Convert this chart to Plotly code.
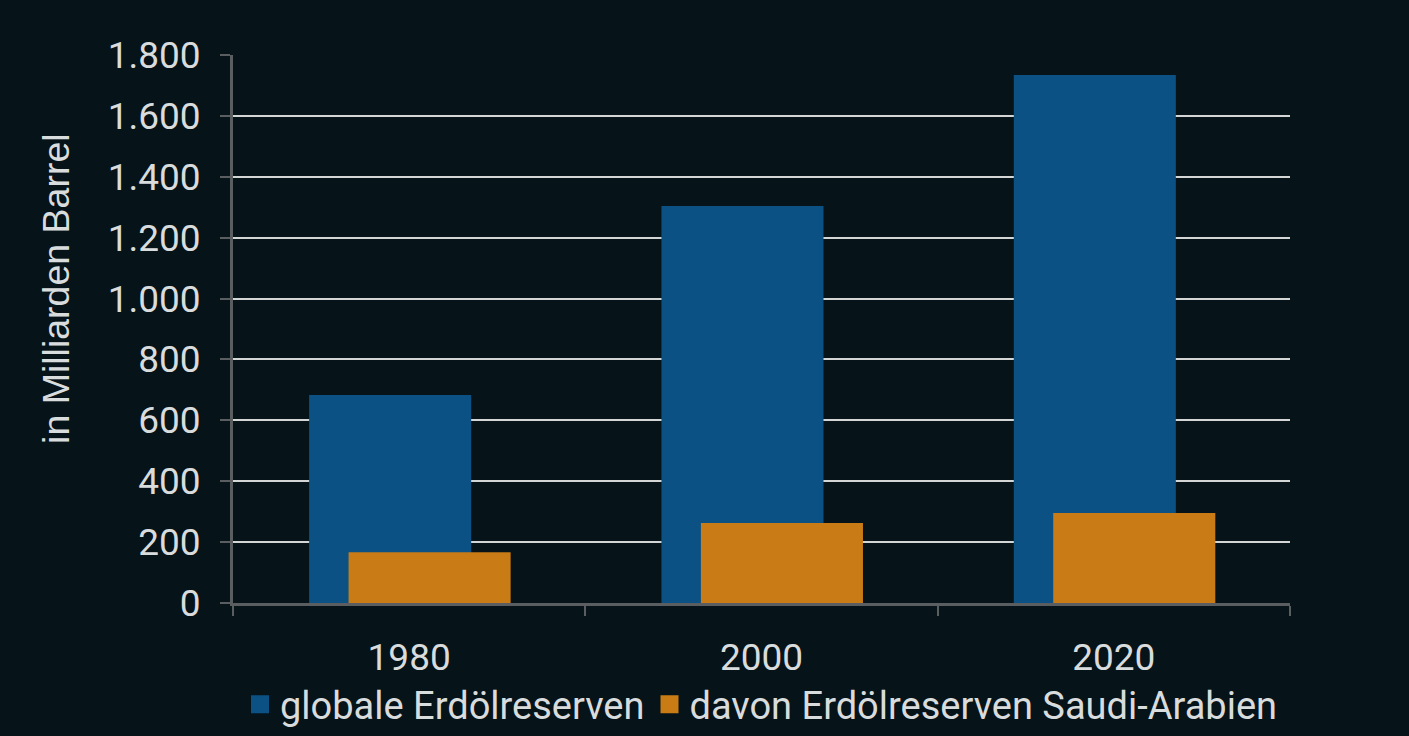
import plotly.graph_objects as go

years = ["1980", "2000", "2020"]
global_reserves = [683, 1304, 1734]
saudi_reserves = [167, 263, 296]
series_names = ["globale Erdölreserven", "davon Erdölreserven Saudi-Arabien"]
y_ticks = [0, 200, 400, 600, 800, 1000, 1200, 1400, 1600, 1800]

BG = "#061318"
BLUE = "#0b5184"
ORANGE = "#c97c15"
TEXT = "#d9dcdd"
FONT = "Roboto"
AXIS = "#5a5e60"

fig = go.Figure()
fig.add_trace(go.Bar(x=years, y=global_reserves, name=series_names[0],
                     marker=dict(color=BLUE, line=dict(width=0)),
                     width=0.46, offset=-0.284, showlegend=False))
fig.add_trace(go.Bar(x=years, y=saudi_reserves, name=series_names[1],
                     marker=dict(color=ORANGE, line=dict(width=0)),
                     width=0.46, offset=-0.172, showlegend=False))
# legend entries with larger square swatches
for name, col in zip(series_names, [BLUE, ORANGE]):
    fig.add_trace(go.Scatter(x=[None], y=[None], mode="markers", name=name,
                             marker=dict(symbol="square", size=16, color=col,
                                         line=dict(color=col, width=2)),
                             hoverinfo="skip"))

fig.update_layout(
    width=1409, height=736,
    paper_bgcolor=BG, plot_bgcolor=BG,
    barmode="overlay",
    separators=",.",
    margin=dict(l=233, r=119, t=55, b=133, autoexpand=False),
    font=dict(family=FONT, color=TEXT, size=37),
    showlegend=True,
    legend=dict(orientation="h", x=0.5, xanchor="center", y=-0.128, yanchor="top",
                font=dict(size=38, color=TEXT), bgcolor="rgba(0,0,0,0)",
                itemsizing="trace", itemwidth=30, tracegroupgap=0),
    xaxis=dict(type="category", tickson="boundaries", ticks="outside", ticklen=10,
               tickwidth=2, tickcolor=AXIS, showline=True, linecolor=AXIS,
               linewidth=3, showgrid=False, tickfont=dict(size=37, color=TEXT),
               ticklabelstandoff=20, automargin=False),
    yaxis=dict(range=[0, 1800], tickvals=y_ticks, tickformat=",d", ticks="outside",
               ticklen=10, tickwidth=2, tickcolor=AXIS, showline=True,
               linecolor=AXIS, linewidth=3, showgrid=True, gridcolor="#d4d6d6",
               gridwidth=2, zeroline=False, tickfont=dict(size=37, color=TEXT),
               ticklabelstandoff=12, automargin=False),
    annotations=[dict(text="in Milliarden Barrel", textangle=-90, xref="paper", yref="paper",
                      x=-0.167, y=0.574, xanchor="center", yanchor="middle", showarrow=False,
                      font=dict(size=37.5, color=TEXT, family="Liberation Sans"))],
)

fig.write_html("out.html", config={"displayModeBar": False},
               post_script="document.body.style.margin='0';document.body.style.background='%s';" % BG)
